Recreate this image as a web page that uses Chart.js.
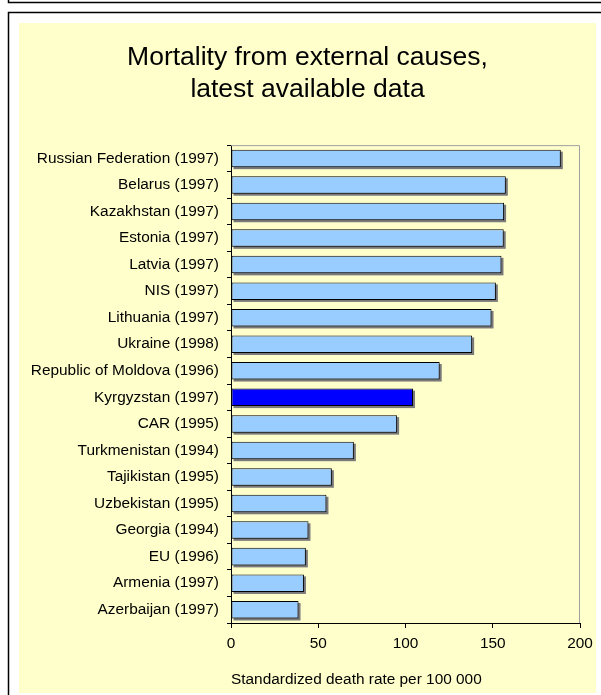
<!DOCTYPE html>
<html>
<head>
<meta charset="utf-8">
<script src="https://cdn.jsdelivr.net/npm/chart.js@4"></script>
<style>
  html, body { margin: 0; padding: 0; background: #ffffff; }
  #wrap { width: 601px; height: 695px; }
</style>
</head>
<body>
<div id="wrap"><canvas id="myChart" width="601" height="695"></canvas></div>
<script>
// données du graphique
var countries = [
    "Russian Federation (1997)", "Belarus (1997)", "Kazakhstan (1997)", "Estonia (1997)",
    "Latvia (1997)", "NIS (1997)", "Lithuania (1997)", "Ukraine (1998)",
    "Republic of Moldova (1996)", "Kyrgyzstan (1997)", "CAR (1995)", "Turkmenistan (1994)",
    "Tajikistan (1995)", "Uzbekistan (1995)", "Georgia (1994)", "EU (1996)",
    "Armenia (1997)", "Azerbaijan (1997)"
];
var deathRates = [189, 157.5, 156.5, 156.3, 155, 151.8, 149.3, 138.2, 119.6, 104.3,
    95.2, 70.4, 57.8, 54.7, 44.4, 42.9, 41.8, 38.7];
var highlighted = "Kyrgyzstan (1997)";
var xTicks = [0, 50, 100, 150, 200];

var chartTitle = ["Mortality from external causes,", "latest available data"];
var xTitle = "Standardized death rate per 100 000";

var fontFamily = "'Liberation Sans', Arial, sans-serif";

// couleur des barres : une seule en bleu foncé
var barColors = countries.map(function (c) {
    return c === highlighted ? "#0000ff" : "#99ccff";
});

/**
 * fond : cadre noir + panneau jaune
 */
var backgroundPlugin = {
    id: "panel",
    beforeDraw: function (chart) {
        const c = chart.ctx;
        c.save();
        c.fillStyle = "#ffffff";
        c.fillRect(0, 0, chart.width, chart.height);
        c.strokeStyle = "#000000";
        c.lineWidth = 1.5;
        c.beginPath();
        c.moveTo(8.5, 0); c.lineTo(8.5, 2.5); c.lineTo(chart.width, 2.5);
        c.moveTo(8.5, chart.height); c.lineTo(8.5, 12.5); c.lineTo(chart.width, 12.5);
        c.stroke();
        c.fillStyle = "#ffffcc";
        c.fillRect(19, 23, 577, 670);
        c.restore();
    },
    beforeDatasetsDraw: function (chart) {
        const c = chart.ctx;
        const a = chart.chartArea;
        c.save();
        // bord gris haut et droite
        c.strokeStyle = "#a0a0a0";
        c.lineWidth = 1;
        c.beginPath();
        c.moveTo(a.left, a.top + 0.5);
        c.lineTo(a.right - 0.5, a.top + 0.5);
        c.lineTo(a.right - 0.5, a.bottom);
        c.stroke();
        // ombre des barres
        c.fillStyle = "#7a7a7a";
        chart.getDatasetMeta(0).data.forEach(function (bar) {
            c.fillRect(bar.base + 2, bar.y - bar.height / 2 + 2, bar.x - bar.base, bar.height);
        });
        c.restore();
    }
};

var ctx = document.getElementById("myChart").getContext("2d");
var myChart = new Chart(ctx, {
    type: "bar",
    data: {
        labels: countries,
        datasets: [{
            data: deathRates,
            backgroundColor: barColors,
            borderColor: "#000000",
            borderWidth: 1,
            borderSkipped: false,
            barPercentage: 0.66,
            categoryPercentage: 1
        }]
    },
    options: {
        indexAxis: "y",
        responsive: false,
        animation: false,
        layout: { padding: { top: 23, left: 19, right: 5, bottom: 0 } },
        plugins: {
            legend: { display: false },
            tooltip: { enabled: false },
            title: {
                display: true,
                text: chartTitle,
                color: "#000000",
                font: { family: fontFamily, size: 26.5, weight: "normal", lineHeight: 1.21 },
                padding: { top: 19, bottom: 39 }
            }
        },
        scales: {
            x: {
                type: "linear",
                min: 0,
                max: 200,
                afterBuildTicks: function (scale) {
                    scale.ticks = xTicks.map(function (v) { return { value: v }; });
                },
                afterFit: function (scale) { scale.height = 72; },
                grid: { drawOnChartArea: false, drawTicks: true, tickLength: 5, color: "#000000" },
                border: { color: "#000000", width: 1 },
                ticks: { color: "#000000", padding: 7, font: { family: fontFamily, size: 15.4 } },
                title: {
                    display: true,
                    text: xTitle,
                    align: "start",
                    color: "#000000",
                    font: { family: fontFamily, size: 15.4 },
                    padding: { top: 4, bottom: 6 }
                }
            },
            y: {
                type: "category",
                afterFit: function (scale) { scale.width = 212; },
                grid: { offset: true, drawOnChartArea: false, drawTicks: true, tickLength: 4, color: "#000000" },
                border: { color: "#000000", width: 1 },
                ticks: { color: "#000000", padding: 8, font: { family: fontFamily, size: 15.4 } }
            },
            y2: {
                type: "category",
                position: "right",
                afterFit: function (scale) { scale.width = 16; },
                grid: { display: false },
                border: { display: false },
                ticks: { display: false }
            }
        }
    },
    plugins: [backgroundPlugin]
});
</script>
</body>
</html>
